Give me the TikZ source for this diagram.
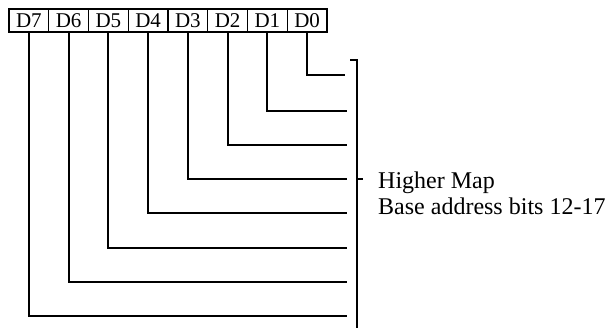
\documentclass[tikz,border=0pt]{standalone}
\usepackage{fontspec}
\setmainfont{Liberation Serif}
\begin{document}
\begin{tikzpicture}[x=1pt,y=-1pt,
  bitbox/.style={draw,line width=1.4pt,minimum width=39.75pt,minimum height=23pt,inner sep=0pt,font=\fontsize{21}{21}\selectfont},
  wire/.style={line width=2.2pt},
  lbl/.style={anchor=base west,inner sep=0pt,font=\fontsize{24}{24}\selectfont}]
\useasboundingbox (0,0) rectangle (608,331);
\foreach \i/\n in {0/7,1/6,2/5,3/4,4/3,5/2,6/1,7/0}{
  \node[bitbox] (d\n) at ({9+39.75*(\i+0.5)},20.5) {D\n};
}
\coordinate (e0) at (345,75);
\coordinate (e1) at (347,111);
\coordinate (e2) at (347,145);
\coordinate (e3) at (347,179);
\coordinate (e4) at (347,213);
\coordinate (e5) at (347,248);
\coordinate (e6) at (347,282);
\coordinate (e7) at (347,316);
\foreach \n in {0,...,7}{
  \draw[wire] (d\n.south) |- (e\n);
}
\coordinate (bt0) at (350,60);
\coordinate (bt) at (357,60);
\coordinate (bb) at (357,328);
\coordinate (tk) at (357,179);
\coordinate (tk1) at (363,179);
\draw[wire] (bt0) -- (bt) -- (bb);
\draw[wire] (tk) -- (tk1);
\node[lbl] (hm) at (378,189) {Higher Map};
\node[lbl] (ba) at (378,215) {Base address bits 12-17};
\end{tikzpicture}
\end{document}
